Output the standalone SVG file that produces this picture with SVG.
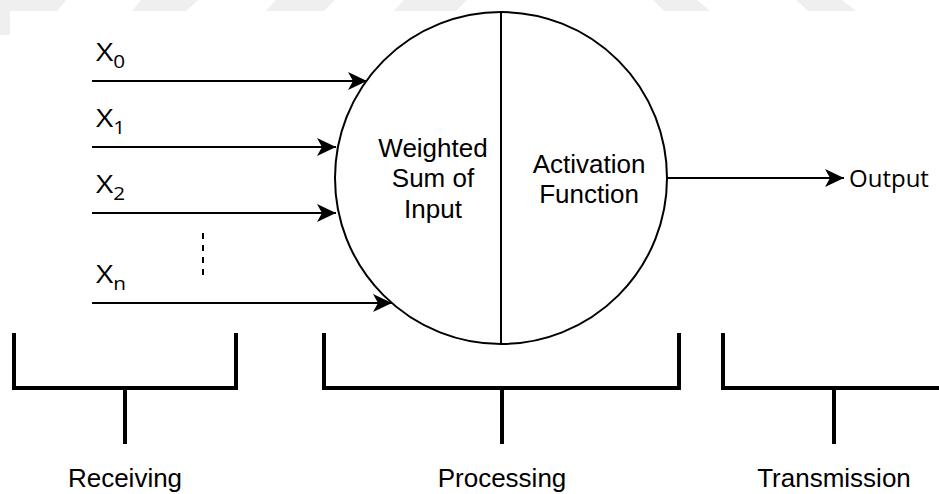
<svg xmlns="http://www.w3.org/2000/svg" width="939" height="494" viewBox="0 0 939 494">
  <defs>
    <style>
      .ln { stroke: #000; stroke-width: 2; fill: none; }
      .br { stroke: #000; stroke-width: 4; fill: none; stroke-linecap: square; }
      .arr { marker-end: url(#ah); }
      .lbl { font-family: "Open Sans", "Noto Sans", sans-serif; fill: #000; }
      .xl { font-family: "Open Sans", "Noto Sans", sans-serif; font-size: 26px; fill: #000; }
      .sub { font-size: 18px; }
      .t { font-family: "Liberation Sans", Arial, sans-serif; font-size: 26px; fill: #000; text-anchor: middle; }
      .wm { fill: #efefef; }
    </style>
    <marker id="ah" markerUnits="userSpaceOnUse" markerWidth="22" markerHeight="20" refX="19" refY="9" orient="auto" viewBox="0 0 22 20">
      <path d="M0,0 L19,9 L0,18 L5,9 Z" fill="#000"/>
    </marker>
  </defs>

  <rect width="939" height="494" fill="#ffffff"/>
  <g id="watermark">
    <polygon class="wm" points="0,0 66,0 57,11 10,11 10,35 0,35"/>
    <polygon class="wm" points="141,0 198,0 186,11 132,11"/>
    <polygon class="wm" points="276,0 335,0 324,11 266,11"/>
    <polygon class="wm" points="404,0 467,0 456,11 394,11"/>
    <polygon class="wm" points="653,0 697,0 710,11 664,11"/>
    <polygon class="wm" points="796,0 842,0 856,11 808,11"/>
  </g>

  <g id="neuron">
    <circle class="ln" cx="501" cy="178" r="166" fill="#fff"/>
    <line class="ln" x1="501" y1="12" x2="501" y2="344"/>
    <text class="t"><tspan x="433" y="157">Weighted</tspan><tspan x="433" y="187">Sum of</tspan><tspan x="433" y="218">Input</tspan></text>
    <text class="t"><tspan x="589" y="173">Activation</tspan><tspan x="589" y="203">Function</tspan></text>
  </g>

  <g id="inputs">
    <text class="xl" transform="translate(96,61) scale(1.15,1)">X<tspan class="sub" dy="7">0</tspan></text>
    <text class="xl" transform="translate(96,127) scale(1.15,1)">X<tspan class="sub" dy="7">1</tspan></text>
    <text class="xl" transform="translate(96,193) scale(1.15,1)">X<tspan class="sub" dy="7">2</tspan></text>
    <text class="xl" transform="translate(96,283) scale(1.15,1)">X<tspan class="sub" dy="7">n</tspan></text>
  </g>

  <g id="output-label">
    <text class="lbl" x="849" y="187" font-size="24">Output</text>
  </g>

  <g id="connectors">
    <line class="ln arr" x1="92" y1="81" x2="367" y2="81"/>
    <line class="ln arr" x1="92" y1="147" x2="336" y2="147"/>
    <line class="ln arr" x1="92" y1="213" x2="336" y2="213"/>
    <line class="ln arr" x1="92" y1="303" x2="392" y2="303"/>
    <line class="ln arr" x1="667" y1="178" x2="844" y2="178"/>
    <line class="ln" x1="203" y1="233" x2="203" y2="278" stroke-dasharray="6 6"/>
  </g>

  <g id="receiving">
    <polyline class="br" points="14,335 14,388 236,388 236,335"/>
    <line class="br" x1="125" y1="388" x2="125" y2="442"/>
    <text class="t" x="125" y="487">Receiving</text>
  </g>
  <g id="processing">
    <polyline class="br" points="324,335 324,388 679,388 679,335"/>
    <line class="br" x1="502" y1="388" x2="502" y2="442"/>
    <text class="t" x="502" y="487">Processing</text>
  </g>
  <g id="transmission">
    <polyline class="br" points="723,335 723,388 945,388"/>
    <line class="br" x1="834" y1="388" x2="834" y2="442"/>
    <text class="t" x="834" y="487">Transmission</text>
  </g>
</svg>
